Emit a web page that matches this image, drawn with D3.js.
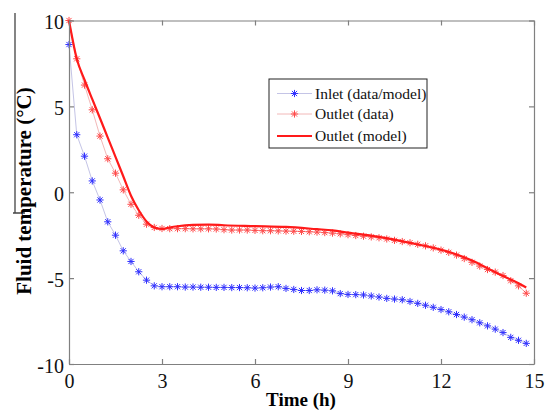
<!DOCTYPE html>
<html>
<head>
<meta charset="utf-8">
<script src="https://cdn.jsdelivr.net/npm/d3@7/dist/d3.min.js"></script>
<style>
  html, body { margin: 0; padding: 0; background: #fff; }
  svg { display: block; }
</style>
</head>
<body>
<svg id="chart" width="550" height="414"></svg>
<script>
// ---------- DATA ----------
const times = [0,0.25,0.5,0.75,1,1.25,1.5,1.75,2,2.25,2.5,2.75,3,3.25,3.5,3.75,4,4.25,4.5,4.75,
  5,5.25,5.5,5.75,6,6.25,6.5,6.75,7,7.25,7.5,7.75,8,8.25,8.5,8.75,9,9.25,9.5,9.75,
  10,10.25,10.5,10.75,11,11.25,11.5,11.75,12,12.25,12.5,12.75,13,13.25,13.5,13.75,14,14.25,14.5,14.75];

const inletData = [8.6,3.35,2.1,0.66,-0.45,-1.72,-2.5,-3.41,-4.03,-4.63,-5.12,-5.45,-5.5,-5.5,-5.5,-5.52,-5.52,-5.53,-5.53,-5.54,
  -5.54,-5.55,-5.55,-5.56,-5.58,-5.56,-5.52,-5.5,-5.6,-5.66,-5.72,-5.72,-5.68,-5.7,-5.74,-5.9,-5.95,-5.96,-5.98,-6.04,
  -6.1,-6.18,-6.22,-6.26,-6.36,-6.47,-6.58,-6.7,-6.83,-6.96,-7.12,-7.27,-7.42,-7.6,-7.78,-7.97,-8.17,-8.45,-8.62,-8.8];

const outletData = [10,7.77,6.24,4.8,3.27,1.95,1.11,0.14,-0.7,-1.34,-1.86,-2.05,-2.11,-2.12,-2.12,-2.12,-2.13,-2.13,-2.13,-2.14,
  -2.18,-2.2,-2.2,-2.2,-2.22,-2.24,-2.24,-2.25,-2.26,-2.27,-2.28,-2.3,-2.32,-2.35,-2.38,-2.42,-2.47,-2.52,-2.56,-2.6,
  -2.65,-2.72,-2.8,-2.87,-2.94,-3.03,-3.12,-3.24,-3.37,-3.5,-3.66,-3.86,-4.08,-4.3,-4.5,-4.65,-4.85,-5.15,-5.45,-5.88];

const modelTimes = [0,0.25,0.5,0.75,1,1.25,1.5,1.75,2,2.25,2.5,2.75,3,3.25,3.5,4,4.5,5,6,7,8,8.5,9,10,11,12,12.5,13,13.5,14,14.5,14.75];
const outletModel = [10,7.77,6.55,5.42,4.31,3.18,2.06,0.93,-0.2,-1.05,-1.7,-2.05,-2.14,-2.05,-1.98,-1.9,-1.88,-1.92,-1.97,-2.02,-2.15,-2.22,-2.35,-2.6,-2.95,-3.35,-3.62,-3.98,-4.42,-4.88,-5.3,-5.55];

const xTicks = [0,3,6,9,12,15];
const yTicks = [-10,-5,0,5,10];
const legendLabels = ["Inlet (data/model)", "Outlet (data)", "Outlet (model)"];

// ---------- LAYOUT ----------
const svg = d3.select("#chart");
const pLeft = 69, pRight = 534, pTop = 20.5, pBottom = 364;
const x = d3.scaleLinear().domain([0, 15]).range([pLeft, pRight]);
const y = d3.scaleLinear().domain([-10, 10]).range([pBottom, pTop]);
const serif = "'Liberation Serif', 'Times New Roman', Times, serif";
const axisColor = "#808080";
const plainFmt = d => String(d);

// stray line artifact near y label
svg.append("path").attr("d", "M15,13 L15,213 M13,213 L25,213")
  .attr("stroke", "#444").attr("stroke-width", 1.3).attr("fill", "none");

// data connecting lines
const line = d3.line().x(d => x(d[0])).y(d => y(d[1]));
svg.append("path").datum(times.map((t, i) => [t, inletData[i]]))
  .attr("d", line).attr("fill", "none").attr("stroke", "#c4c4e6").attr("stroke-width", 1);
svg.append("path").datum(times.map((t, i) => [t, outletData[i]]))
  .attr("d", line).attr("fill", "none").attr("stroke", "#f2b8b8").attr("stroke-width", 1);

// star markers
function star(g, cx, cy, r, color) {
  const d = r * 0.72;
  g.append("path")
    .attr("d", `M${cx - r},${cy}L${cx + r},${cy}M${cx},${cy - r}L${cx},${cy + r}M${cx - d},${cy - d}L${cx + d},${cy + d}M${cx - d},${cy + d}L${cx + d},${cy - d}`)
    .attr("stroke", color).attr("stroke-width", 1).attr("fill", "none");
}
const markG = svg.append("g");
times.forEach((t, i) => star(markG, x(t), y(inletData[i]), 3.6, "#3030ff"));
times.forEach((t, i) => star(markG, x(t), y(outletData[i]), 3.6, "#ff4a4a"));

// model line
svg.append("path").datum(modelTimes.map((t, i) => [t, outletModel[i]]))
  .attr("d", d3.line().curve(d3.curveMonotoneX).x(d => x(d[0])).y(d => y(d[1])))
  .attr("fill", "none").attr("stroke", "#ff1a1a").attr("stroke-width", 2.2);

// axes (box with inward ticks)
const axB = svg.append("g").attr("transform", `translate(0,${pBottom})`)
  .call(d3.axisBottom(x).tickValues(xTicks).tickFormat(plainFmt).tickSizeInner(-5).tickSizeOuter(0).tickPadding(10));
const axT = svg.append("g").attr("transform", `translate(0,${pTop})`)
  .call(d3.axisTop(x).tickValues(xTicks).tickSizeInner(-5).tickSizeOuter(0).tickFormat(""));
const axL = svg.append("g").attr("transform", `translate(${pLeft},0)`)
  .call(d3.axisLeft(y).tickValues(yTicks).tickFormat(plainFmt).tickSizeInner(-5).tickSizeOuter(0).tickPadding(5));
const axR = svg.append("g").attr("transform", `translate(${pRight},0)`)
  .call(d3.axisRight(y).tickValues(yTicks).tickSizeInner(-5).tickSizeOuter(0).tickFormat(""));
[axB, axT, axL, axR].forEach(a => {
  a.selectAll(".domain").attr("stroke", axisColor).attr("stroke-width", 1.2);
  a.selectAll(".tick line").attr("stroke", axisColor).attr("stroke-width", 1.2);
  a.selectAll("text").attr("font-family", serif).attr("font-size", 20).attr("fill", "#111");
});
axB.selectAll("text").attr("dy", "0.68em");
axL.selectAll("text").attr("dy", "0.4em");

// axis titles
svg.append("text").attr("x", 301).attr("y", 406).attr("text-anchor", "middle")
  .attr("font-family", serif).attr("font-weight", "bold").attr("font-size", 19)
  .text("Time (h)");
svg.append("text").attr("transform", "translate(31,191) rotate(-90)").attr("text-anchor", "middle")
  .attr("font-family", serif).attr("font-weight", "bold").attr("font-size", 21)
  .text("Fluid temperature (°C)");

// legend
const lg = svg.append("g");
lg.append("rect").attr("x", 269).attr("y", 79).attr("width", 158).attr("height", 69)
  .attr("fill", "#fff").attr("stroke", "#222").attr("stroke-width", 1);
const rows = [93.5, 114, 136];
lg.append("line").attr("x1", 277).attr("x2", 312).attr("y1", rows[0]).attr("y2", rows[0]).attr("stroke", "#c4c4e6");
star(lg, 294.5, rows[0], 3.6, "#3030ff");
lg.append("line").attr("x1", 277).attr("x2", 312).attr("y1", rows[1]).attr("y2", rows[1]).attr("stroke", "#f2b8b8");
star(lg, 294.5, rows[1], 3.6, "#ff4a4a");
lg.append("line").attr("x1", 277).attr("x2", 312).attr("y1", rows[2]).attr("y2", rows[2]).attr("stroke", "#ff1a1a").attr("stroke-width", 2.2);
legendLabels.forEach((l, i) => {
  lg.append("text").attr("x", 315).attr("y", rows[i]).attr("dy", "0.35em")
    .attr("font-family", serif).attr("font-size", 15.5).attr("fill", "#111").text(l);
});
</script>
</body>
</html>
